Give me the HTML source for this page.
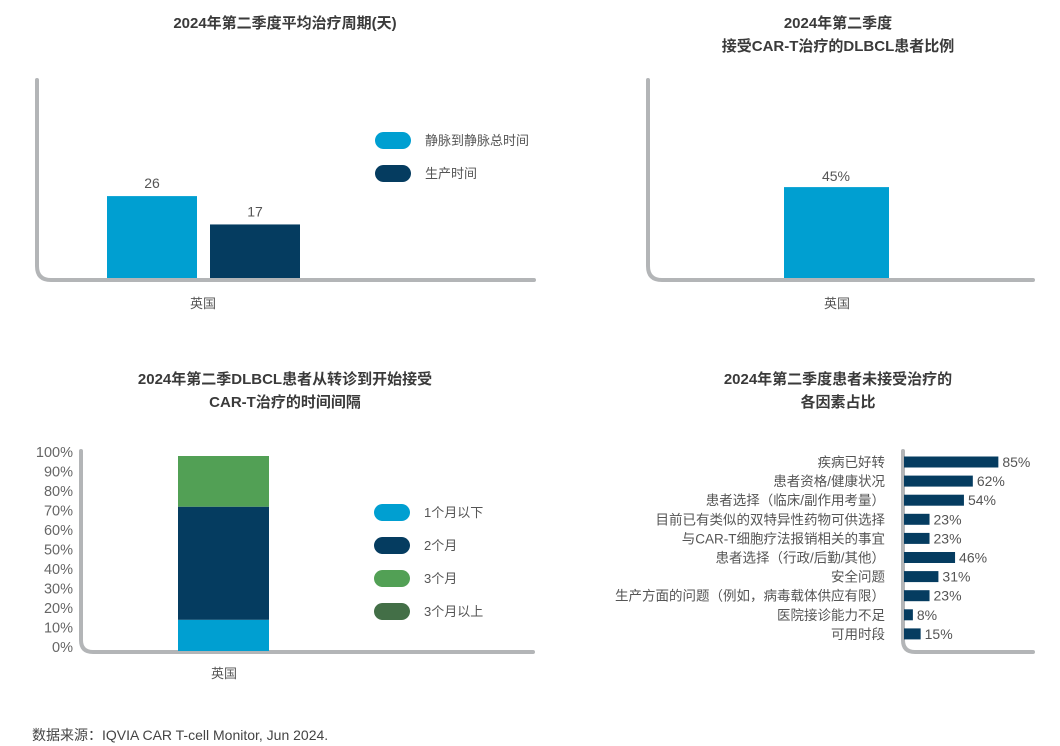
<!DOCTYPE html>
<html><head><meta charset="utf-8">
<style>
body{margin:0;background:#fff;width:1060px;height:746px;overflow:hidden;font-family:"Liberation Sans","Noto Sans CJK SC",sans-serif;}
svg{display:block}
.t{font-weight:bold;font-size:15px;fill:#3a3a3a;text-anchor:middle}
.l{font-size:13px;fill:#555}
.ax{fill:none;stroke:#b3b5b7;stroke-width:4;stroke-linecap:round}
</style></head>
<body>
<svg id="s" width="1060" height="746" font-family="Liberation Sans, Noto Sans CJK SC, sans-serif">
<text class="t" x="285" y="28">2024年第二季度平均治疗周期(天)</text>
<text class="t" x="838" y="28">2024年第二季度</text>
<text class="t" x="838" y="51">接受CAR-T治疗的DLBCL患者比例</text>
<text class="t" x="285" y="384">2024年第二季DLBCL患者从转诊到开始接受</text>
<text class="t" x="285" y="407">CAR-T治疗的时间间隔</text>
<text class="t" x="838" y="384">2024年第二季度患者未接受治疗的</text>
<text class="t" x="838" y="407">各因素占比</text>
<path class="ax" d="M37 80 V266 Q37 280 51 280 H534"/>
<path class="ax" d="M648 80 V266 Q648 280 662 280 H1033"/>
<path class="ax" d="M81 451 V640 Q81 652 93 652 H533"/>
<path class="ax" d="M903 451 V640 Q903 652 915 652 H1033"/>
<text class="l" x="203" y="308" text-anchor="middle">英国</text>
<text class="l" x="837" y="308" text-anchor="middle">英国</text>
<text class="l" x="224" y="678" text-anchor="middle">英国</text>
<text x="32" y="740" font-size="14" fill="#444">数据来源：IQVIA CAR T-cell Monitor, Jun 2024.</text>
</svg>
<script>
const NS='http://www.w3.org/2000/svg';
const s=document.getElementById('s');
function mk(t,a,txt){const e=document.createElementNS(NS,t);for(const k in a)e.setAttribute(k,a[k]);if(txt!=null)e.textContent=txt;s.appendChild(e);return e;}

// chart1
const c1Series=['静脉到静脉总时间','生产时间'];
const c1Values=[26,17];
const c1Colors=['#009fd1','#053c60'];
const y1=v=>278-v*3.15;
c1Values.forEach((v,i)=>{const x=107+i*103;
 let r=mk('rect',{x:x,y:y1(v),width:90,height:278-y1(v),fill:c1Colors[i]});
 
 
 let t=mk('text',{x:x+45,y:y1(v)-8,'text-anchor':'middle','font-size':14,fill:'#555'},String(v));
 
 
 let p=mk('rect',{x:375,y:132+i*33,width:36,height:17,rx:8.5,fill:c1Colors[i]});
 
 
 let lt=mk('text',{x:425,y:145+i*33,'font-size':13,fill:'#555'},c1Series[i]);
 
 
});

// chart2
const c2Values=[45];
const y2=v=>278-v*2.02;
c2Values.forEach(v=>{
 let r=mk('rect',{x:784,y:y2(v),width:105,height:278-y2(v),fill:'#009fd1'});
 
 
 let t=mk('text',{x:836,y:y2(v)-6,'text-anchor':'middle','font-size':14,fill:'#555'},v+'%');
 
 
});

// chart3
const c3Series=['1个月以下','2个月','3个月','3个月以上'];
const c3Values=[16,58,26,0];
const c3Colors=['#009fd1','#053c60','#52a055','#436f47'];
const c3Ticks=['0%','10%','20%','30%','40%','50%','60%','70%','80%','90%','100%'];
const y3=v=>651-v*1.95;
c3Ticks.forEach((tk,i)=>{let t=mk('text',{x:73,y:y3(i*10)+1,'text-anchor':'end','font-size':14.5,fill:'#666'},tk);
 
 });
let acc=0;
c3Values.forEach((v,i)=>{
 if(v>0){let r=mk('rect',{x:178,y:y3(acc+v),width:91,height:y3(acc)-y3(acc+v),fill:c3Colors[i]});
 
 }
 acc+=v;
 let p=mk('rect',{x:374,y:504+i*33,width:36,height:17,rx:8.5,fill:c3Colors[i]});
 
 
 let lt=mk('text',{x:424,y:517+i*33,'font-size':13,fill:'#555'},c3Series[i]);
 
 
});

// chart4
const c4Cats=['疾病已好转','患者资格/健康状况','患者选择（临床/副作用考量）','目前已有类似的双特异性药物可供选择','与CAR-T细胞疗法报销相关的事宜','患者选择（行政/后勤/其他）','安全问题','生产方面的问题（例如，病毒载体供应有限）','医院接诊能力不足','可用时段'];
const c4Values=[85,62,54,23,23,46,31,23,8,15];
const x4=v=>904+v*1.11;
c4Cats.forEach((c,i)=>{const cy=462+i*19.1;
 let r=mk('rect',{x:904,y:cy-5.5,width:x4(c4Values[i])-904,height:11,fill:'#053c60'});
 
 
 let v=mk('text',{x:x4(c4Values[i])+4,y:cy+5,'font-size':14,fill:'#555'},c4Values[i]+'%');
 
 
 let t=mk('text',{x:885,y:cy+5,'text-anchor':'end','font-size':13.5,fill:'#555'},c);
 
 
});
</script>
</body></html>
